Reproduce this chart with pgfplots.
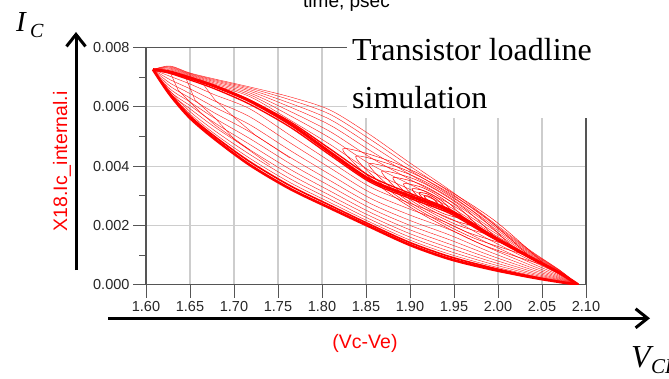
\documentclass[border=0pt]{standalone}
\usepackage{fontspec}
\setmainfont{Liberation Sans}
\newfontfamily\timesfont{Liberation Serif}
\usepackage{pgfplots}
\usepackage{pgfplotstable}
\pgfplotsset{compat=1.18}
\usetikzlibrary{arrows.meta}
\definecolor{gridgray}{RGB}{205,205,205}
\definecolor{axgray}{RGB}{85,85,85}
\definecolor{simred}{RGB}{255,0,0}

\pgfplotstableread{
x u100 u90 u78 u65 u50 u35 u20 u08 t l05 l15 l27 l39 l50 l60 l69 l77 l84 l90 l95 l100
1.608 0.00726 0.00726 0.00726 0.00726 0.00726 0.00726 0.00726 0.00726 0.00726 0.00726 0.00726 0.00726 0.00726 0.00726 0.00726 0.00726 0.00726 0.00726 0.00726 0.00726 0.00726
1.627 0.007383 0.007363 0.007339 0.007312 0.007282 0.007252 0.007221 0.007197 0.007181 0.007134 0.007039 0.006926 0.006812 0.006708 0.006613 0.006528 0.006453 0.006550 0.006500 0.006460 0.006420
1.650 0.007147 0.007130 0.007110 0.007088 0.007063 0.007037 0.007012 0.006992 0.006978 0.006910 0.006775 0.006613 0.006451 0.006303 0.006168 0.006046 0.005938 0.005844 0.005763 0.005695 0.005628
1.678 0.006944 0.006917 0.006885 0.006850 0.006809 0.006769 0.006728 0.006722 0.006700 0.006612 0.006411 0.006200 0.005990 0.005796 0.005621 0.005463 0.005323 0.005200 0.005094 0.005007 0.004919
1.718 0.006674 0.006634 0.006585 0.006532 0.006472 0.006411 0.006350 0.006232 0.006200 0.006089 0.005935 0.005667 0.005400 0.005155 0.004932 0.004732 0.004553 0.004397 0.004264 0.004152 0.004041
1.764 0.006337 0.006239 0.006122 0.005994 0.005848 0.005701 0.005554 0.005498 0.005420 0.005314 0.005039 0.004784 0.004528 0.004294 0.004082 0.003890 0.003720 0.003571 0.003444 0.003337 0.003231
1.809 0.005898 0.005753 0.005579 0.005390 0.005172 0.004954 0.004736 0.004586 0.004470 0.004377 0.004167 0.003945 0.003722 0.003517 0.003332 0.003165 0.003016 0.002886 0.002775 0.002682 0.002589
1.855 0.005054 0.004902 0.004720 0.004522 0.004295 0.004067 0.003839 0.003657 0.003535 0.003456 0.003297 0.003107 0.002916 0.002741 0.002583 0.002440 0.002313 0.002202 0.002107 0.002027 0.001948
1.900 0.004109 0.003998 0.003864 0.003719 0.003552 0.003385 0.003218 0.003084 0.002995 0.002912 0.002747 0.002548 0.002350 0.002167 0.002002 0.001853 0.001721 0.001605 0.001505 0.001423 0.001340
1.945 0.003197 0.003126 0.003041 0.002949 0.002843 0.002736 0.002630 0.002545 0.002488 0.002407 0.002245 0.002051 0.001856 0.001678 0.001516 0.001370 0.001241 0.001127 0.001030 0.000949 0.000868
1.991 0.002184 0.002133 0.002073 0.002007 0.001931 0.001855 0.001779 0.001718 0.001678 0.001621 0.001506 0.001368 0.001230 0.001104 0.000989 0.000886 0.000794 0.000714 0.000645 0.000587 0.000530
2.036 0.001171 0.001147 0.001119 0.001088 0.001053 0.001018 0.000982 0.000954 0.000935 0.000901 0.000834 0.000753 0.000672 0.000597 0.000530 0.000469 0.000415 0.000368 0.000327 0.000294 0.000260
2.070 0.000496 0.000486 0.000474 0.000461 0.000446 0.000430 0.000415 0.000403 0.000395 0.000380 0.000349 0.000313 0.000276 0.000243 0.000213 0.000185 0.000161 0.000140 0.000121 0.000106 0.000091
2.091 0 0 0 0 0 0 0 0 0 0 0 0 0 0 0 0 0 0 0 0 0
}\loadlines

\begin{document}
\begin{tikzpicture}[x=1pt,y=1pt]
\useasboundingbox (0,0) rectangle (669,378);
\begin{axis}[
  at={(146pt,93.3pt)}, anchor=south west,
  width=440pt, height=237pt, scale only axis,
  xmin=1.6, xmax=2.1, ymin=0, ymax=0.008,
  xtick={1.60,1.65,1.70,1.75,1.80,1.85,1.90,1.95,2.00,2.05,2.10},
  xticklabels={1.60,1.65,1.70,1.75,1.80,1.85,1.90,1.95,2.00,2.05,2.10},
  ytick={0,0.002,0.004,0.006,0.008},
  yticklabels={0.000,0.002,0.004,0.006,0.008},
  minor ytick={0.001,0.003,0.005,0.007},
  scaled y ticks=false,
  tick pos=left, tick align=outside,
  major tick length=13pt, minor tick length=7pt,
  tick style={axgray, line width=1pt},
  grid=major, major grid style={gridgray, line width=1.1pt},
  axis line style={axgray, line width=1.2pt},
  ticklabel style={font=\fontsize{14.5}{16}\selectfont, text=black!85},
  every axis plot/.append style={simred, smooth, no marks},
]
% upper family
\foreach \c in {u100,u90,u78,u65,u50,u35,u20} {
  \addplot[line width=0.45pt, opacity=0.85] table[x=x,y=\c] {\loadlines};
}
\addplot[line width=1.3pt] table[x=x,y=u08] {\loadlines};
\addplot[line width=3pt] table[x=x,y=t] {\loadlines};
\addplot[line width=1.3pt] table[x=x,y=l05] {\loadlines};
\foreach \c in {l15,l27,l39,l50,l60,l69,l77,l84,l90} {
  \addplot[line width=0.45pt, opacity=0.85] table[x=x,y=\c] {\loadlines};
}
\addplot[line width=1.6pt] table[x=x,y=l95] {\loadlines};
\addplot[line width=2.6pt] table[x=x,y=l100] {\loadlines};
% jagged inner lines near the left tip
\addplot[sharp plot, line width=0.45pt, opacity=0.85] coordinates {(1.6273,7.181e-3) (1.6364,6.573e-3) (1.6614,5.830e-3) (1.6784,5.391e-3) (1.7182,4.547e-3)};
\addplot[sharp plot, line width=0.45pt, opacity=0.85] coordinates {(1.6443,7.046e-3) (1.6557,6.235e-3) (1.6784,5.628e-3) (1.7011,4.885e-3) (1.7409,4.041e-3)};
\addplot[sharp plot, line width=0.45pt, opacity=0.85] coordinates {(1.6614,6.911e-3) (1.6784,6.235e-3) (1.7011,5.628e-3) (1.7239,5.054e-3) (1.7636,4.277e-3)};
% nested loops
\addplot[line width=0.8pt] coordinates {(1.9319,2.732e-3) (1.9278,2.863e-3) (1.9231,2.959e-3) (1.9200,2.997e-3) (1.9161,3.001e-3) (1.9181,2.904e-3) (1.9209,2.842e-3) (1.9260,2.769e-3) (1.9319,2.732e-3)};
\addplot[line width=0.7pt] coordinates {(1.9397,2.597e-3) (1.9325,2.831e-3) (1.9240,3.002e-3) (1.9177,3.083e-3) (1.9102,3.102e-3) (1.9145,2.919e-3) (1.9200,2.798e-3) (1.9293,2.667e-3) (1.9397,2.597e-3)};
\addplot[line width=0.6pt] coordinates {(1.9496,2.429e-3) (1.9381,2.782e-3) (1.9248,3.046e-3) (1.9144,3.185e-3) (1.9023,3.236e-3) (1.9099,2.951e-3) (1.9192,2.754e-3) (1.9335,2.548e-3) (1.9496,2.429e-3)};
\addplot[line width=0.5pt] coordinates {(1.9634,2.194e-3) (1.9459,2.711e-3) (1.9260,3.105e-3) (1.9104,3.316e-3) (1.8925,3.404e-3) (1.9041,2.988e-3) (1.9180,2.695e-3) (1.9395,2.383e-3) (1.9634,2.194e-3)};
\addplot[line width=0.5pt] coordinates {(1.9791,1.925e-3) (1.9546,2.623e-3) (1.9271,3.163e-3) (1.9054,3.464e-3) (1.8806,3.606e-3) (1.8972,3.042e-3) (1.9169,2.637e-3) (1.9465,2.202e-3) (1.9791,1.925e-3)};
\addplot[line width=0.45pt] coordinates {(1.9959,1.639e-3) (1.9639,2.527e-3) (1.9282,3.222e-3) (1.8999,3.620e-3) (1.8678,3.825e-3) (1.8899,3.105e-3) (1.9158,2.578e-3) (1.9540,2.012e-3) (1.9959,1.639e-3)};
\addplot[line width=0.45pt] coordinates {(2.0156,1.303e-3) (1.9747,2.406e-3) (1.9294,3.281e-3) (1.8934,3.793e-3) (1.8531,4.077e-3) (1.8816,3.184e-3) (1.9146,2.520e-3) (1.9629,1.797e-3) (2.0156,1.303e-3)};
\addplot[line width=0.45pt] coordinates {(2.0353,0.967e-3) (1.9854,2.285e-3) (1.9305,3.339e-3) (1.8869,3.966e-3) (1.8383,4.329e-3) (1.8733,3.263e-3) (1.9135,2.461e-3) (1.9718,1.582e-3) (2.0353,0.967e-3)};
\addplot[line width=0.45pt] coordinates {(2.0550,0.631e-3) (1.9962,2.163e-3) (1.9316,3.398e-3) (1.8804,4.139e-3) (1.8235,4.581e-3) (1.8651,3.342e-3) (1.9124,2.402e-3) (1.9808,1.367e-3) (2.0550,0.631e-3)};
\end{axis}
% white box behind the title
\fill[white] (347,260) rectangle (610,378);
\node[anchor=base west, inner sep=0pt, font=\timesfont\fontsize{32}{36}\selectfont] at (352,317) {Transistor loadline};
\node[anchor=base west, inner sep=0pt, font=\timesfont\fontsize{32}{36}\selectfont] at (352,269) {simulation};
\node[anchor=base west, inner sep=0pt, font=\fontsize{19}{20}\selectfont] at (303,370) {time, psec};
% axis labels
\node[rotate=90, text=simred, font=\fontsize{19.5}{20}\selectfont] at (62,216.5) {X18.Ic\_internal.i};
\node[text=simred, font=\fontsize{19.5}{20}\selectfont] at (365,35) {(Vc-Ve)};
% arrows
\draw[line width=3pt, -{Straight Barb[length=12pt,width=19pt]}] (76,108) -- (76,346);
\draw[line width=3pt, -{Straight Barb[length=12pt,width=19pt]}] (108,59.7) -- (650,59.7);
% I_C and V_CE
\node[anchor=base west, inner sep=0pt, font=\timesfont\itshape\fontsize{29}{30}\selectfont] at (16,346) {I};
\node[anchor=base west, inner sep=0pt, font=\timesfont\itshape\fontsize{20}{20}\selectfont] at (30,340) {C};
\node[anchor=base west, inner sep=0pt, font=\timesfont\itshape\fontsize{32}{32}\selectfont] at (631,11) {V};
\node[anchor=base west, inner sep=0pt, font=\timesfont\itshape\fontsize{21}{21}\selectfont] at (651,5) {CE};
\end{tikzpicture}
\end{document}
